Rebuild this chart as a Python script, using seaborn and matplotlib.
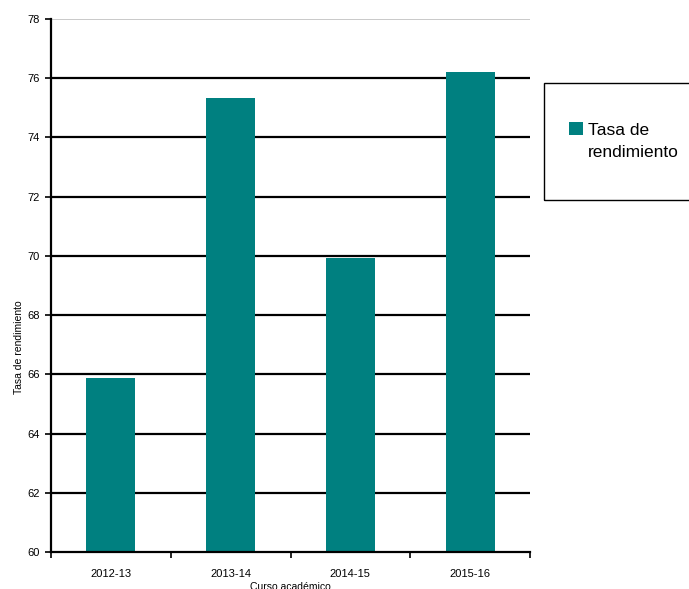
import matplotlib
matplotlib.use("Agg")
import matplotlib.pyplot as plt
import matplotlib.patches as mpatches
import seaborn as sns
import pandas as pd
from matplotlib.ticker import MultipleLocator, FixedLocator

# chart values
cursos = ["2012-13", "2013-14", "2014-15", "2015-16"]
tasa = [65.88, 75.34, 69.93, 76.22]

sns.set_style("white")
plt.rcParams["font.family"] = ["Liberation Sans", "DejaVu Sans"]
plt.rcParams["text.color"] = "black"
plt.rcParams["axes.labelcolor"] = "black"
plt.rcParams["xtick.color"] = "black"
plt.rcParams["ytick.color"] = "black"

df = pd.DataFrame({"Curso académico": cursos, "Tasa de rendimiento": tasa})

fig = plt.figure(figsize=(6.89, 5.89), dpi=100)
ax = fig.add_axes([51 / 689, 37 / 589, 479 / 689, 533 / 589])

sns.barplot(
    data=df,
    x="Curso académico",
    y="Tasa de rendimiento",
    color="#008080",
    saturation=1,
    width=0.41,
    linewidth=0,
    ax=ax,
    zorder=3,
)

ax.set_ylim(60, 78)
ax.set_xlim(-0.5, 3.5)
ax.yaxis.set_major_locator(MultipleLocator(2))

# gridlines
for v in range(62, 78, 2):
    ax.axhline(v, color="black", lw=1.6, zorder=1)
ax.axhline(78, color="#c0c0c0", lw=1.2, zorder=1)

for s in ["top", "right"]:
    ax.spines[s].set_visible(False)
for s in ["left", "bottom"]:
    ax.spines[s].set_color("black")
    ax.spines[s].set_linewidth(1.6)
    ax.spines[s].set_zorder(4)

ax.tick_params(axis="y", direction="out", length=4, width=1.2, color="black",
               labelsize=8, left=True, pad=4)
ax.tick_params(axis="x", which="major", length=0, labelsize=8, pad=12)
ax.xaxis.set_minor_locator(FixedLocator([-0.5, 0.5, 1.5, 2.5, 3.5]))
ax.tick_params(axis="x", which="minor", direction="out", length=4, width=1.2,
               color="black", bottom=True)

ax.set_xlabel("Curso académico", fontsize=7.5)
ax.set_ylabel("Tasa de rendimiento", fontsize=7.5)
ax.xaxis.set_label_coords(0.5, -0.056)
ax.yaxis.set_label_coords(-0.056, 0.385)

# legend box (runs past the right edge like the reference)
fig.patches.append(mpatches.Rectangle(
    (544 / 689, 1 - 200 / 589), 0.3, 117 / 589,
    transform=fig.transFigure, fill=False, edgecolor="black", lw=1.0))

teal = mpatches.Patch(facecolor="#008080", edgecolor="none")
blank = mpatches.Patch(facecolor="none", edgecolor="none")
leg = ax.legend(
    handles=[teal, blank],
    labels=["Tasa de", "rendimiento"],
    loc="upper left",
    bbox_to_anchor=(569 / 689, 1 - 122 / 589),
    bbox_transform=fig.transFigure,
    frameon=False,
    fontsize=12.5,
    handlelength=0.8,
    handleheight=0.8,
    handletextpad=0.3,
    labelspacing=0.38,
    borderpad=0,
    borderaxespad=0,
)

fig.savefig("out.png", dpi=100)
